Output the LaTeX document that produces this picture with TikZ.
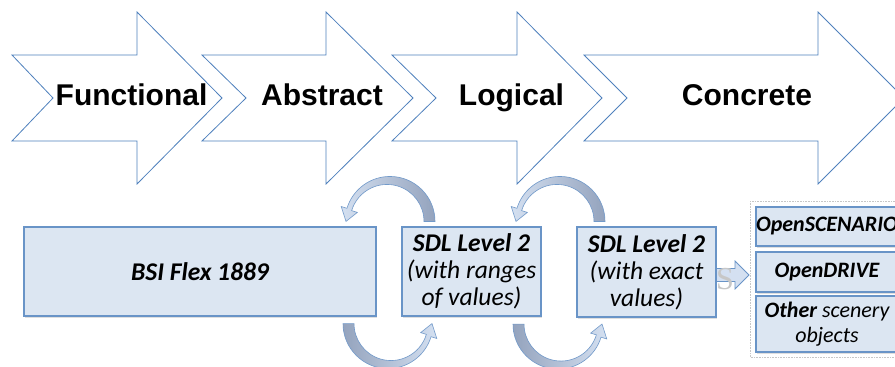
\documentclass[tikz,border=0pt]{standalone}
\usepackage{fontspec}
\setmainfont{Carlito}
\newfontfamily\stagefont{Liberation Sans}
\newfontfamily\ghostfont{Liberation Serif}
\usetikzlibrary{calc, shadows}
\definecolor{sdlblue}{RGB}{79, 129, 189}
\definecolor{sdlfill}{RGB}{220, 230, 242}
\definecolor{arclight}{RGB}{212, 224, 241}
\definecolor{arcdark}{RGB}{148, 163, 189}

\begin{document}
\begin{tikzpicture}[
  x=1pt, y=-1pt,
  stage/.style={draw=sdlblue, line width=0.8pt, fill=white, line join=miter},
  stagetext/.style={font=\stagefont\bfseries\fontsize{30}{36}\selectfont, anchor=base, inner sep=0pt},
  sdlbox/.style={draw=sdlblue!85, line width=1.1pt, fill=sdlfill, align=center, inner sep=0pt,
    drop shadow={opacity=0.25, shadow xshift=1pt, shadow yshift=-1.5pt}},
  boxtext/.style={font=\fontsize{25.5}{27}\selectfont\itshape},
  coltext/.style={font=\fontsize{22}{24.5}\selectfont\itshape},
  blockarrow/.style={draw=sdlblue!85, line width=0.8pt, fill=arclight, line join=miter},
  loopshade/.style={left color=arclight, right color=arcdark},
  turnarrow/.pic={
    \path[loopshade, draw=sdlblue!80, line width=0.6pt]
      (46,0) arc[start angle=0, end angle=-163, radius=45]
      -- ($(1,0)+(-163:51)$) -- (180:43) -- ($(-2,0)+(-163:31)$)
      -- ($(-2,0)+(-163:37)$) arc[start angle=-163, end angle=0, radius=37] -- cycle;
  }
]
  \clip (0,0) rectangle (895,367);
  \fill[white] (0,0) rectangle (895,367);

  % stages
  \draw[stage] (12,55) -- (137,55) -- (137,12) -- (222,98) -- (137,184) -- (137,141) -- (12,141) -- (53,98) -- cycle;
  \draw[stage] (202,55) -- (326,55) -- (326,12) -- (413,98) -- (326,184) -- (326,141) -- (202,141) -- (246,98) -- cycle;
  \draw[stage] (392,55) -- (517,55) -- (517,12) -- (602,98) -- (517,184) -- (517,141) -- (392,141) -- (436,98) -- cycle;
  \draw[stage] (584,55) -- (818,55) -- (818,12) -- (904,98) -- (818,184) -- (818,141) -- (584,141) -- (627,98) -- cycle;
  \node[stagetext] (functional) at (131.5,105) {Functional};
  \node[stagetext] (abstract) at (322,105) {Abstract};
  \node[stagetext] (logical) at (511.5,105) {Logical};
  \node[stagetext] (concrete) at (747,105) {Concrete};

  % arrow to the formats
  \coordinate (out) at (716,272);
  \draw[blockarrow] ($(out)+(-4,-3.5)$) -- ++(23,0) -- ++(0,-7.5) -- ++(14,14) -- ++(-14,14) -- ++(0,-7.5) -- ++(-23,0) -- cycle;
  \node[font=\ghostfont\fontsize{32}{34}\selectfont, text=black!22, inner sep=0pt] (ghost) at (725,279) {S};

  % description levels
  \node[sdlbox, boxtext, minimum width=352pt, minimum height=89pt] (bsi) at (200,271.5) {\textbf{BSI Flex 1889}};
  \node[sdlbox, boxtext, minimum width=139pt, minimum height=89pt] (sdlA) at (471.5,271.5) {\textbf{SDL Level 2}\\(with ranges\\of values)};
  \node[sdlbox, boxtext, minimum width=139pt, minimum height=90pt] (sdlB) at (646.5,272) {\textbf{SDL Level 2}\\(with exact\\values)};

  % formats
  \draw[black!22, densely dotted, line width=0.6pt] (750,201) rectangle (904,357);
  \node[sdlbox, coltext, minimum width=142pt, minimum height=39pt] (oscen) at (827,226.5) {\textbf{OpenSCENARIO}};
  \node[sdlbox, coltext, minimum width=142pt, minimum height=40pt] (odrive) at (827,272) {\textbf{OpenDRIVE}};
  \node[sdlbox, coltext, minimum width=142pt, minimum height=56pt] (other) at (827,324) {\textbf{Other} scenery\\objects};

  % refinement loops
  \pic at ($(bsi.north east)!0.5!(sdlA.north west)+(0,-5)$) {turnarrow};
  \pic at ($(sdlA.north east)!0.5!(sdlB.north west)+(0,-5)$) {turnarrow};
  \pic[rotate=180, loopshade/.style={left color=arcdark, right color=arclight}] at ($(bsi.south east)!0.5!(sdlA.south west)+(0,7)$) {turnarrow};
  \pic[rotate=180, loopshade/.style={left color=arcdark, right color=arclight}] at ($(sdlA.south east)!0.5!(sdlB.south west)+(0,7)$) {turnarrow};
\end{tikzpicture}
\end{document}
